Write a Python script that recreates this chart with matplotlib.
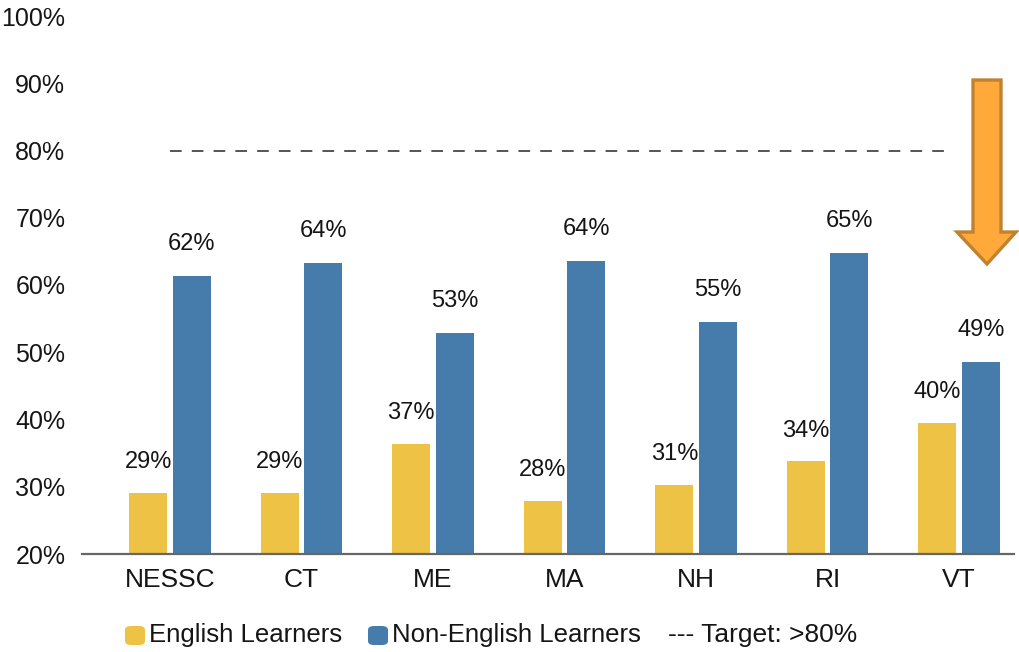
import matplotlib
matplotlib.use('Agg')
import matplotlib.pyplot as plt
from matplotlib.patches import Polygon, FancyBboxPatch
import numpy as np

plt.rcParams['font.family'] = ['Liberation Sans', 'DejaVu Sans']

# data
regions = ['NESSC', 'CT', 'ME', 'MA', 'NH', 'RI', 'VT']
english_learners = [29.1, 29.1, 36.4, 27.9, 30.3, 33.8, 39.5]
non_english_learners = [61.4, 63.3, 52.8, 63.6, 54.5, 64.7, 48.6]
el_labels = ['29%', '29%', '37%', '28%', '31%', '34%', '40%']
nel_labels = ['62%', '64%', '53%', '64%', '55%', '65%', '49%']
target = 80

yellow = '#EDC245'
blue = '#467CAB'
txt = '#151515'

fig = plt.figure(figsize=(10.19, 6.52), dpi=100)
ax = fig.add_axes([82/1019, 1 - 554/652, 932/1019, 538/652])

x = np.arange(len(regions))
w = 0.29
b1 = ax.bar(x - 0.165, [v - 20 for v in english_learners], w, bottom=20, color=yellow)
b2 = ax.bar(x + 0.165, [v - 20 for v in non_english_learners], w, bottom=20, color=blue)

for rect, v, lab in zip(b1, english_learners, el_labels):
    ax.annotate(lab, (rect.get_x() + rect.get_width() / 2, v), xytext=(0, 22),
                textcoords='offset points', ha='center', va='center', fontsize=17, color=txt)
for rect, v, lab in zip(b2, non_english_learners, nel_labels):
    ax.annotate(lab, (rect.get_x() + rect.get_width() / 2, v), xytext=(0, 23),
                textcoords='offset points', ha='center', va='center', fontsize=17, color=txt)

# target line
ax.hlines(target, 0, 5.93, colors='#555555', linestyles=(0, (6, 5.2)), linewidth=1.4)

ax.set_xlim(-0.669, 6.418)
ax.set_ylim(20, 100)
ax.set_yticks(range(20, 101, 10))
ax.set_yticklabels([f'{t}%' for t in range(20, 101, 10)])
ax.set_xticks(x)
ax.set_xticklabels(regions)
ax.tick_params(axis='y', length=0, pad=12, labelsize=18, labelcolor=txt)
ax.tick_params(axis='x', length=0, pad=10, labelsize=19, labelcolor=txt)
for s in ['top', 'right', 'left']:
    ax.spines[s].set_visible(False)
ax.spines['bottom'].set_color('#666666')
ax.spines['bottom'].set_linewidth(1.6)

# orange arrow (figure pixel coords)
W, H = 1019, 652
pts = [(973, 80), (1001, 80), (1001, 232), (1016, 232), (987, 264),
       (957, 232), (973, 232)]
arrow = Polygon([(px / W, 1 - py / H) for px, py in pts], closed=True,
                transform=fig.transFigure, facecolor='#FFA93A', edgecolor='#C0822E',
                linewidth=2.4, joinstyle='miter', clip_on=False)
fig.add_artist(arrow)

# legend along the bottom
for (x0, col, lab) in [(125, yellow, 'English Learners'), (368, blue, 'Non-English Learners')]:
    sq = FancyBboxPatch((x0 / W, 1 - 645 / H), 20 / W, 19 / H,
                        boxstyle='round,pad=0,rounding_size=0.006',
                        transform=fig.transFigure, facecolor=col, edgecolor='none')
    fig.add_artist(sq)
    fig.text((x0 + 24) / W, 1 - 635 / H, lab, ha='left', va='center', fontsize=18.5, color=txt)
fig.text(668 / W, 1 - 635 / H, '--- Target: >80%', ha='left', va='center', fontsize=19, color=txt)

fig.savefig('out.png', dpi=100)
